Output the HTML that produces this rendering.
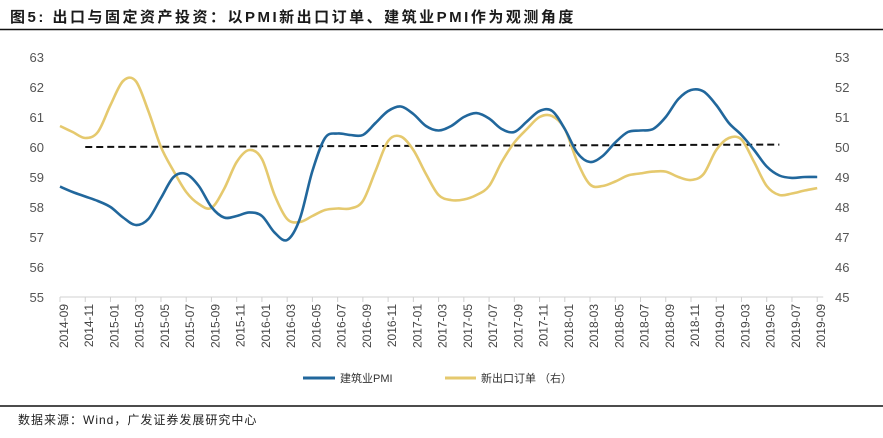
<!DOCTYPE html>
<html><head><meta charset="utf-8"><style>
body{margin:0;background:#fff;width:883px;height:433px;overflow:hidden;font-family:"Liberation Sans","Noto Sans CJK SC",sans-serif}
</style></head><body>
<svg id="c" width="883" height="433" xmlns="http://www.w3.org/2000/svg">
<text x="10" y="22" font-size="15" font-weight="bold" fill="#1a1a1a" letter-spacing="2.5" font-family="Liberation Sans,Noto Sans CJK SC,sans-serif">图5:  出口与固定资产投资：以PMI新出口订单、建筑业PMI作为观测角度</text>
<line x1="0" y1="29.5" x2="883" y2="29.5" stroke="#111" stroke-width="1.5"/>
<line x1="0" y1="406" x2="883" y2="406" stroke="#111" stroke-width="1.5"/>
<text x="18" y="424" font-size="12" fill="#222" letter-spacing="1" font-family="Liberation Sans,Noto Sans CJK SC,sans-serif">数据来源：Wind，广发证券发展研究中心</text>
<g id="axes"></g><g id="marks"></g>
<g>
<line x1="303" y1="378" x2="335" y2="378" stroke="#21679c" stroke-width="3"/>
<text x="340" y="382" font-size="11" fill="#333" font-family="Liberation Sans,Noto Sans CJK SC,sans-serif">建筑业PMI</text>
<line x1="445" y1="378" x2="476" y2="378" stroke="#e5c96e" stroke-width="3"/>
<text x="481" y="382" font-size="11" fill="#333" font-family="Liberation Sans,Noto Sans CJK SC,sans-serif">新出口订单 （右）</text>
</g>
</svg>
<script>
const tickLabels=[];for(let y=2014,m=9;tickLabels.length<31;){tickLabels.push(y+'-'+String(m).padStart(2,'0'));m+=2;if(m>12){m-=12;y++;}}
const leftTicks=[55,56,57,58,59,60,61,62,63];
const rightTicks=[45,46,47,48,49,50,51,52,53];
const construction=[58.68,58.5,58.35,58.2,58.0,57.65,57.4,57.6,58.3,59.0,59.1,58.7,58.0,57.65,57.7,57.82,57.7,57.15,56.9,57.6,59.2,60.3,60.45,60.4,60.4,60.8,61.2,61.35,61.1,60.7,60.55,60.7,61.0,61.13,60.95,60.6,60.5,60.85,61.2,61.2,60.6,59.8,59.5,59.7,60.15,60.5,60.55,60.6,61.0,61.6,61.9,61.85,61.4,60.8,60.4,59.9,59.35,59.05,58.97,59.0,59.0];
const exportOrders=[50.7,50.5,50.3,50.5,51.4,52.2,52.2,51.2,50.0,49.2,48.5,48.1,47.97,48.6,49.5,49.9,49.6,48.4,47.6,47.5,47.7,47.9,47.95,47.95,48.2,49.2,50.2,50.35,49.9,49.1,48.4,48.23,48.25,48.4,48.7,49.5,50.15,50.6,51.0,51.03,50.6,49.5,48.75,48.7,48.85,49.05,49.12,49.18,49.18,49.0,48.9,49.1,49.9,50.3,50.25,49.5,48.7,48.4,48.45,48.55,48.63];
const trendIdx=[2,57];
const trendVals=[60.0,60.08];
const NS='http://www.w3.org/2000/svg';
const X0=60,DX=12.62,Y55=297,PU=30;
const x=i=>X0+i*DX;
const yL=v=>Y55-(v-55)*PU;
const yR=v=>Y55-(v-45)*PU;
const axes=document.getElementById('axes'),marks=document.getElementById('marks');
function mk(t,a,p){const e=document.createElementNS(NS,t);for(const k in a)e.setAttribute(k,a[k]);p.appendChild(e);return e;}
let ax=mk('line',{x1:X0,y1:Y55,x2:x(60)+6,y2:Y55,stroke:'#d0d0d0'},axes);


tickLabels.forEach((l,k)=>{const xx=x(k*2);
 const t=mk('line',{x1:xx,y1:Y55,x2:xx,y2:Y55+5,stroke:'#d0d0d0'},axes);
 
 
 const tx=mk('text',{x:0,y:0,'font-size':12,fill:'#444','text-anchor':'end',transform:`translate(${xx+8},${Y55+7}) rotate(-90)`},axes);
 tx.textContent=l;
 
 
});
leftTicks.forEach(v=>{const t=mk('text',{x:44,y:yL(v)+5,'font-size':13,fill:'#555','text-anchor':'end'},axes);t.textContent=v;
 
 });
rightTicks.forEach(v=>{const t=mk('text',{x:835,y:yR(v)+5,'font-size':13,fill:'#555'},axes);t.textContent=v;
 
 });
function smooth(pts){let d=`M${pts[0][0]},${pts[0][1]}`;for(let i=0;i<pts.length-1;i++){const p0=pts[i-1]||pts[i],p1=pts[i],p2=pts[i+1],p3=pts[i+2]||p2;
 d+=`C${p1[0]+(p2[0]-p0[0])/6},${p1[1]+(p2[1]-p0[1])/6} ${p2[0]-(p3[0]-p1[0])/6},${p2[1]-(p3[1]-p1[1])/6} ${p2[0]},${p2[1]}`;}return d;}
const tl=mk('line',{x1:x(trendIdx[0]),y1:yL(trendVals[0]),x2:x(trendIdx[1]),y2:yL(trendVals[1]),stroke:'#111','stroke-width':2,'stroke-dasharray':'7,4'},marks);


const yl=mk('path',{d:smooth(exportOrders.map((v,i)=>[x(i),yR(v)])),fill:'none',stroke:'#e5c96e','stroke-width':2.6},marks);


const bl=mk('path',{d:smooth(construction.map((v,i)=>[x(i),yL(v)])),fill:'none',stroke:'#21679c','stroke-width':2.6},marks);


</script>
</body></html>
